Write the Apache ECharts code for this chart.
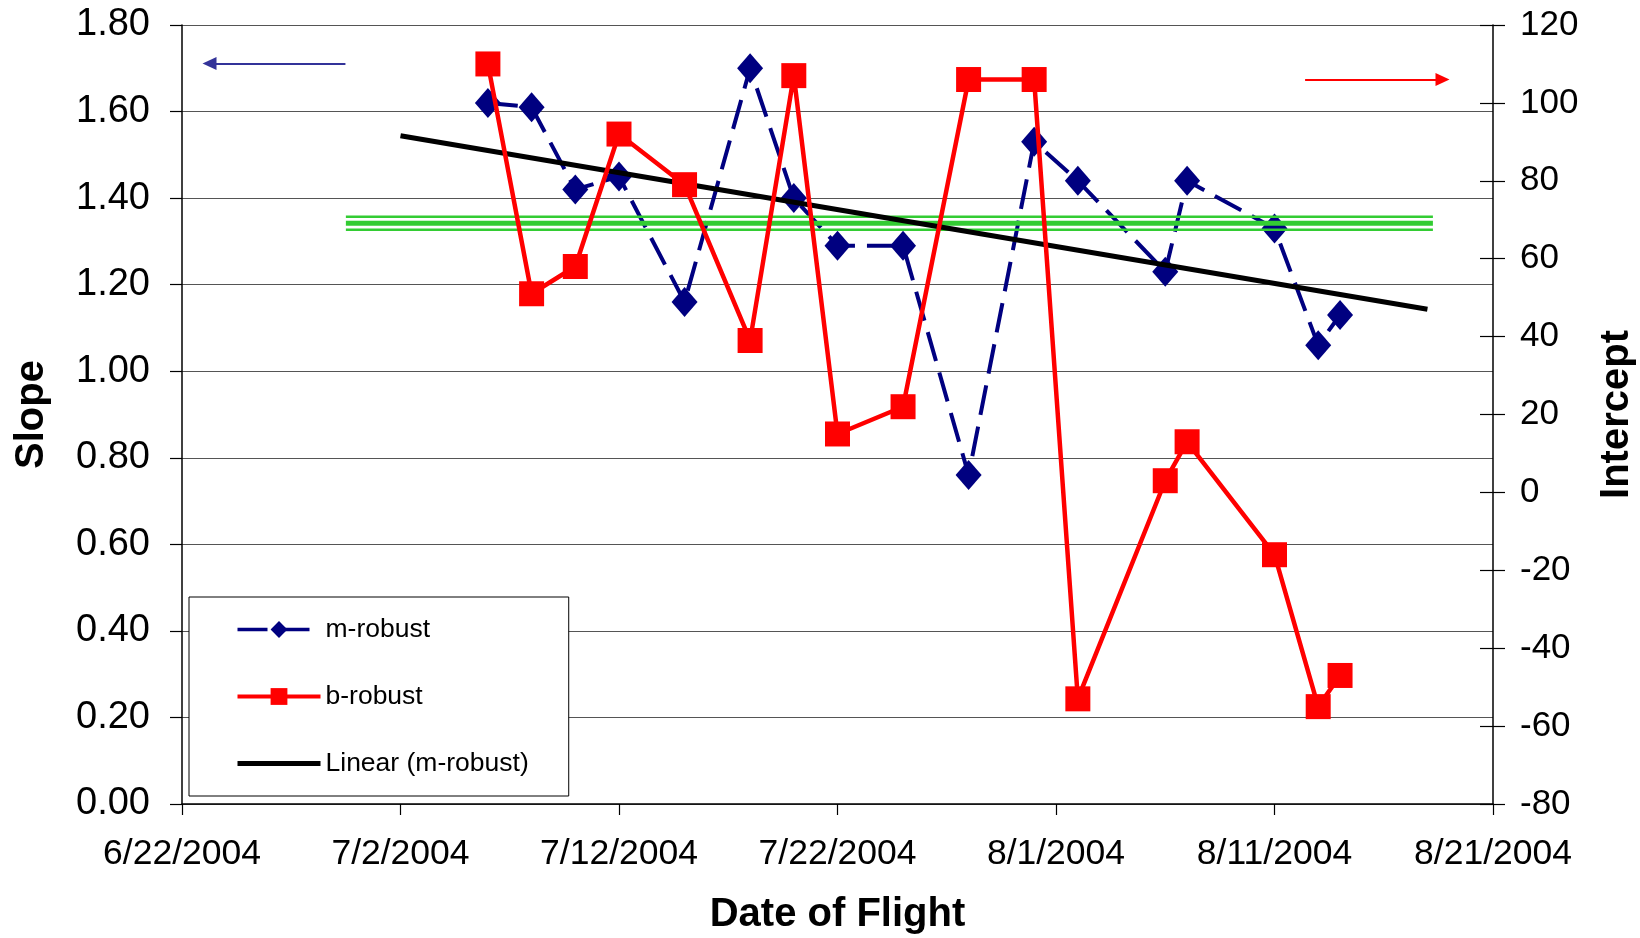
<!DOCTYPE html>
<html>
<head>
<meta charset="utf-8">
<script src="https://cdn.jsdelivr.net/npm/echarts@6/dist/echarts.min.js"></script>
<style>html,body{margin:0;padding:0;background:#fff}#c{width:1640px;height:938px}</style>
</head>
<body>
<div id="c"></div>
<script>
// ---- data ----
const flightDates = ['7/6/2004','7/8/2004','7/10/2004','7/12/2004','7/15/2004','7/18/2004','7/20/2004','7/22/2004','7/25/2004','7/28/2004','7/31/2004','8/2/2004','8/6/2004','8/7/2004','8/11/2004','8/13/2004','8/14/2004'];
const mRobust = [1.62,1.61,1.42,1.45,1.16,1.70,1.40,1.29,1.29,0.76,1.53,1.44,1.23,1.44,1.33,1.06,1.13];
const bRobust = [110,51,58,92,79,39,107,15,22,106,106,-53,3,13,-16,-55,-47];
const trendDates = ['7/2/2004','8/18/2004'];
const trendValues = [1.544,1.143];
const bandLevels = [1.357,1.342,1.327];
const bandSpanDays = [7.5,57.25];
const xTickLabels = ['6/22/2004','7/2/2004','7/12/2004','7/22/2004','8/1/2004','8/11/2004','8/21/2004'];
const slopeTicks = [0,0.2,0.4,0.6,0.8,1.0,1.2,1.4,1.6,1.8];
const interceptTicks = [-80,-60,-40,-20,0,20,40,60,80,100,120];
const slopeArrow = {fromDay:7.48, toDay:1.26, value:1.711};
const interceptArrow = {fromDay:51.4, toDay:57.69, value:106};

// ---- helpers ----
const ORIGIN = Date.UTC(2004,5,22);
function dayOf(s){const p=s.split('/').map(Number);return (Date.UTC(p[2],p[0]-1,p[1])-ORIGIN)/864e5;}
const FONT = '"Liberation Sans", Arial, sans-serif';

const mData = flightDates.map((d,i)=>[dayOf(d), mRobust[i]]);
const bData = flightDates.map((d,i)=>[dayOf(d), bRobust[i]]);
const tData = trendDates.map((d,i)=>[dayOf(d), trendValues[i]]);
const bandWidths = [2.5,5,2.5];

const chart = echarts.init(document.getElementById('c'));
const option = {
  animation:false,
  backgroundColor:'#fff',
  grid:{left:182,right:147,top:25,bottom:134,outerBoundsMode:'none'},
  legend:{
    data:[
      {name:'m-robust',lineStyle:{width:3.5}},
      {name:'b-robust',lineStyle:{width:4}},
      {name:'Linear (m-robust)',itemStyle:{opacity:0},lineStyle:{width:5}}
    ],
    orient:'vertical',left:189,top:597,align:'left',
    itemWidth:83,itemHeight:21,itemGap:40,
    padding:[19,40,19,46],
    backgroundColor:'#fff',borderColor:'#000',borderWidth:1,borderRadius:0,
    textStyle:{fontSize:26.5,color:'#000',fontFamily:FONT},
    selectedMode:false
  },
  xAxis:{
    type:'value',min:0,max:60,interval:10,
    name:'Date of Flight',nameLocation:'middle',nameGap:91,
    nameTextStyle:{fontSize:40,fontWeight:'bold',color:'#000',fontFamily:FONT},
    axisLine:{show:true,lineStyle:{color:'#000',width:1.5}},
    axisTick:{show:true,length:11,lineStyle:{color:'#000',width:1.2}},
    splitLine:{show:false},
    axisLabel:{fontSize:35.5,color:'#000',fontFamily:FONT,margin:32,
      formatter:v=>xTickLabels[Math.round(v/10)]||''}
  },
  yAxis:[
    {type:'value',position:'left',min:slopeTicks[0],max:slopeTicks[slopeTicks.length-1],interval:0.2,
     name:'Slope',nameLocation:'middle',nameRotate:90,nameGap:130,
     nameTextStyle:{fontSize:40,fontWeight:'bold',color:'#000',fontFamily:FONT},
     axisLine:{show:true,lineStyle:{color:'#000',width:1.5}},
     axisTick:{show:true,length:12,lineStyle:{color:'#000',width:1.2}},
     splitLine:{show:true,lineStyle:{color:'#555',width:1.2}},
     axisLabel:{fontSize:38,color:'#000',fontFamily:FONT,margin:32,formatter:v=>v.toFixed(2)}},
    {type:'value',position:'right',min:interceptTicks[0],max:interceptTicks[interceptTicks.length-1],interval:20,
     name:'Intercept',nameLocation:'middle',nameRotate:90,nameGap:104,
     nameTextStyle:{fontSize:40,fontWeight:'bold',color:'#000',fontFamily:FONT},
     axisLine:{show:true,lineStyle:{color:'#000',width:1.5}},
     axisTick:{show:true,length:12,lineStyle:{color:'#000',width:1.2}},
     splitLine:{show:false},
     axisLabel:{fontSize:35,color:'#000',fontFamily:FONT,margin:27}},
    {type:'value',position:'right',min:interceptTicks[0],max:interceptTicks[interceptTicks.length-1],interval:20,
     axisLine:{show:false},axisTick:{show:true,inside:true,length:13,lineStyle:{color:'#000',width:1.2}},
     splitLine:{show:false},axisLabel:{show:false}}
  ],
  series:[
    {name:'m-robust',type:'line',yAxisIndex:0,data:mData,z:2,
     symbol:'diamond',symbolSize:[26,30],
     itemStyle:{color:'#000080'},
     lineStyle:{color:'#000080',width:4,type:[30,12]},
     markLine:{silent:true,symbol:['none','triangle'],symbolSize:[13,14],
       lineStyle:{color:'#333399',width:2,type:'solid'},label:{show:false},
       data:[[{coord:[slopeArrow.fromDay,slopeArrow.value]},{coord:[slopeArrow.toDay,slopeArrow.value]}]]}},
    ...bandLevels.map((lv,i)=>({name:'band'+i,type:'line',yAxisIndex:0,z:3,silent:true,symbol:'none',
      data:[[bandSpanDays[0],lv],[bandSpanDays[1],lv]],
      lineStyle:{color:'#33cc33',width:bandWidths[i]}})),
    {name:'Linear (m-robust)',type:'line',yAxisIndex:0,data:tData,z:4,symbol:'none',
     itemStyle:{color:'#000'},lineStyle:{color:'#000',width:5}},
    {name:'b-robust',type:'line',yAxisIndex:1,data:bData,z:5,
     symbol:'rect',symbolSize:25,
     itemStyle:{color:'#ff0000'},
     lineStyle:{color:'#ff0000',width:4.5},
     markLine:{silent:true,symbol:['none','triangle'],symbolSize:[13,14],
       lineStyle:{color:'#ff0000',width:2,type:'solid'},label:{show:false},
       data:[[{coord:[interceptArrow.fromDay,interceptArrow.value]},{coord:[interceptArrow.toDay,interceptArrow.value]}]]}}
  ]
};
chart.setOption(option);
</script>
</body>
</html>
